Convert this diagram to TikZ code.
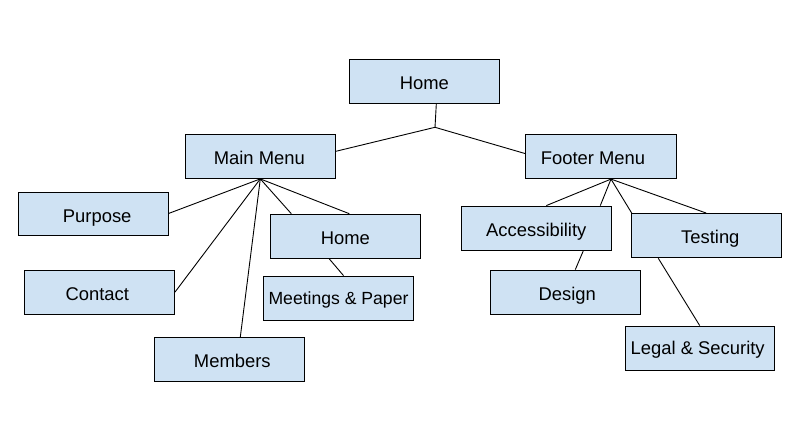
\documentclass[tikz,border=0pt]{standalone}
\usepackage{fontspec}
\setmainfont{Liberation Sans}
\definecolor{boxblue}{HTML}{CFE2F3}
\newcommand{\shifttext}[2]{\hspace*{#1}#2\hspace*{-#1}}
\begin{document}
\begin{tikzpicture}[x=1pt,y=-1pt,
  pagebox/.style={draw=black,fill=boxblue,line width=1.2pt,minimum width=150pt,minimum height=44pt,inner sep=0pt,text height=16pt,text depth=0pt,font=\fontsize{18.4}{21}\selectfont},
  link/.style={draw=black,line width=0.9pt}]
\useasboundingbox[fill=white] (0,0) rectangle (800,430);
\node[pagebox] (home) at (424.3,81.3) {Home};
\node[pagebox] (mainmenu) at (260.3,156.3) {\shifttext{-1pt}{Main Menu}};
\node[pagebox,minimum width=151pt] (footer) at (601,156.5) {\shifttext{-8pt}{Footer Menu}};
\node[pagebox,minimum height=43pt] (purpose) at (93.2,214.4) {\shifttext{4pt}{Purpose}};
\node[pagebox] (contact) at (99.3,292.2) {\shifttext{-2pt}{Contact}};
\node[pagebox] (members) at (229.3,359.7) {\shifttext{3pt}{Members}};
\node[pagebox] (home2) at (345.3,236.3) {Home};
\node[pagebox,text height=12.5pt,font=\fontsize{17.6}{21}\selectfont] (meetings) at (338.5,298.2) {Meetings \& Paper};
\node[pagebox] (access) at (536.3,228.2) {Accessibility};
\node[pagebox] (design) at (565.3,292.2) {\shifttext{2pt}{Design}};
\node[pagebox] (testing) at (706.3,235.7) {\shifttext{4pt}{Testing}};
\node[pagebox,text height=12.5pt,minimum width=149pt] (legal) at (699.7,348.2) {\shifttext{-2pt}{Legal \& Security}};
\coordinate (jt) at (435,127.3);
\coordinate (jm) at (mainmenu.south);
\coordinate (jf) at ([xshift=10pt]footer.south);
\draw[link] ([xshift=12pt]home.south) -- (jt);
\draw[link] (jt) -- ([yshift=5pt]mainmenu.east);
\draw[link] (jt) -- ([yshift=3pt]footer.west);
\draw[link] (jm) -- ([yshift=1pt]purpose.east);
\draw[link] (jm) -- (contact.east);
\draw[link] (jm) -- ([xshift=11pt]members.north);
\draw[link] (jm) -- ([xshift=-54pt]home2.north);
\draw[link] (jm) -- ([xshift=4pt]home2.north);
\draw[link] ([xshift=-16pt]home2.south) -- ([xshift=5pt]meetings.north);
\draw[link] (jf) -- ([xshift=10pt]access.north);
\draw[link] (jf) -- ([xshift=64pt]access.north);
\draw[link] (jf) -- ([xshift=1pt]testing.north west);
\draw[link] (jf) -- (testing.north);
\draw[link] ([xshift=47pt]access.south) -- ([xshift=10pt]design.north);
\draw[link] ([xshift=-48pt]testing.south) -- (legal.north);
\end{tikzpicture}
\end{document}
